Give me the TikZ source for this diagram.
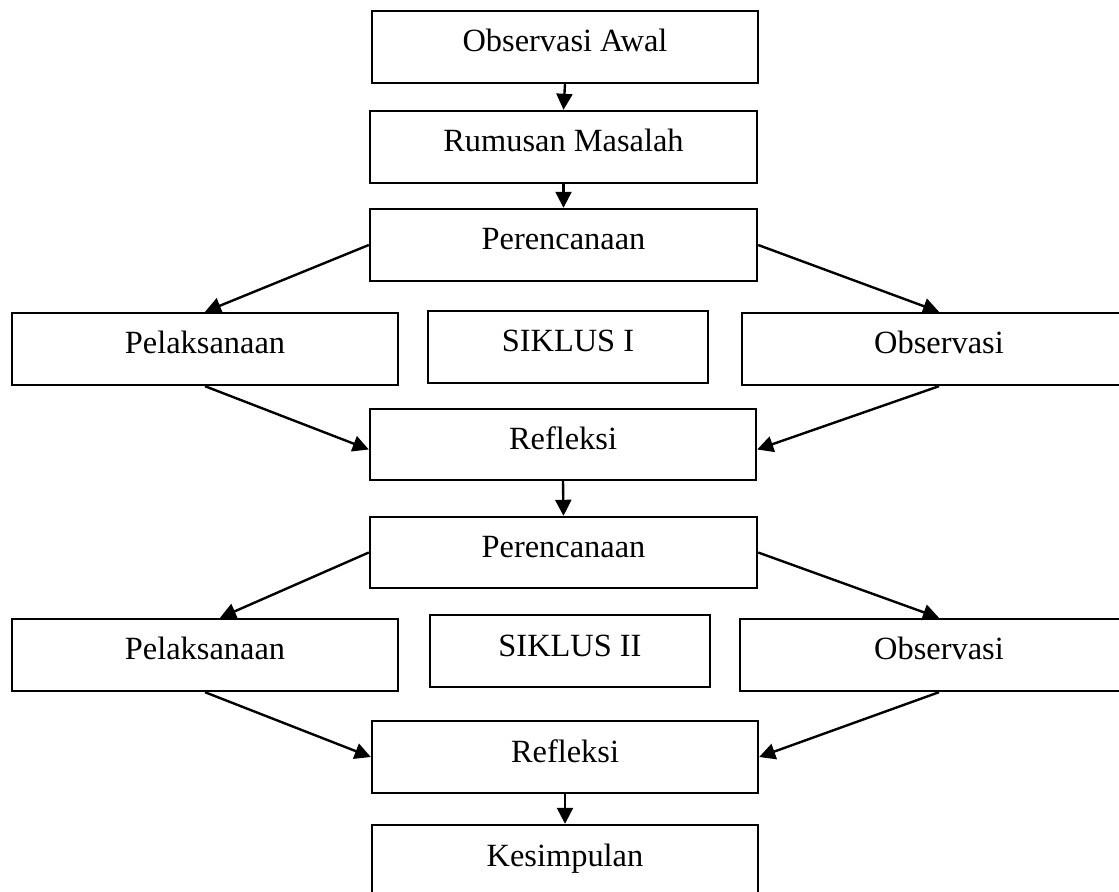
\documentclass[tikz,border=0pt]{standalone}
\usepackage{fontspec}
\setmainfont{Liberation Serif}
\usetikzlibrary{arrows.meta}
\begin{document}
\begin{tikzpicture}[x=0.5pt,y=-0.5pt,
  box/.style={draw,line width=1.2pt,rectangle,minimum height=36pt,
    text height=12pt,text depth=7pt,inner sep=0pt,
    font=\fontsize{16.2}{19}\selectfont},
  arr/.style={line width=1.2pt,-{Triangle[length=8pt,width=8pt]}}]
\useasboundingbox (0,0) rectangle (1119,892);
\clip (0,0) rectangle (1119,892);
\node[box,minimum width=193pt] (awal) at (565,47) {Observasi Awal};
\node[box,minimum width=193.5pt] (rumusan) at (563.5,147) {Rumusan Masalah};
\node[box,minimum width=193.5pt] (renc1) at (563.5,245) {Perencanaan};
\node[box,minimum width=193pt] (pel1) at (205,349) {Pelaksanaan};
\node[box,minimum width=140pt] (sik1) at (568,347) {SIKLUS I};
\node[box,minimum width=197pt] (obs1) at (939,349) {Observasi};
\node[box,minimum width=193pt,minimum height=35.5pt] (ref1) at (563,444.5) {Refleksi};
\node[box,minimum width=193.5pt,minimum height=35.5pt] (renc2) at (563.5,552.5) {Perencanaan};
\node[box,minimum width=193pt] (pel2) at (205,655) {Pelaksanaan};
\node[box,minimum width=140pt] (sik2) at (570,651) {SIKLUS II};
\node[box,minimum width=199pt] (obs2) at (939,655) {Observasi};
\node[box,minimum width=193pt] (ref2) at (565,757) {Refleksi};
\node[box,minimum width=193pt] (kes) at (565,861) {Kesimpulan};
\draw[arr] (awal.south) -- (rumusan.north);
\draw[arr] (rumusan.south) -- (renc1.north);
\draw[arr] (renc1.west) -- (pel1.north);
\draw[arr] (renc1.east) -- (obs1.north);
\draw[arr] (pel1.south) -- ([yshift=-2.5pt]ref1.west);
\draw[arr] (obs1.south) -- ([yshift=-2.5pt]ref1.east);
\draw[arr] (ref1.south) -- (renc2.north);
\draw[arr] (renc2.west) -- ([xshift=7.5pt]pel2.north);
\draw[arr] (renc2.east) -- (obs2.north);
\draw[arr] (pel2.south) -- (ref2.west);
\draw[arr] (obs2.south) -- (ref2.east);
\draw[arr] (ref2.south) -- (kes.north);
\end{tikzpicture}
\end{document}
